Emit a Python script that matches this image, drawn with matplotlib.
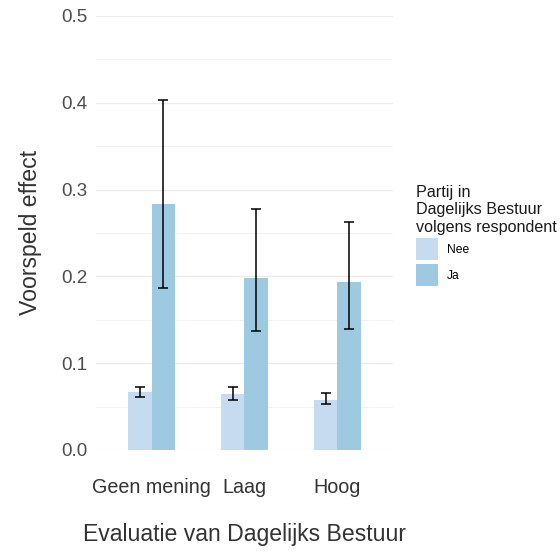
import numpy as np
import matplotlib.pyplot as plt
from matplotlib.patches import Patch

plt.rcParams['font.family'] = ['Liberation Sans', 'DejaVu Sans']

categories = ['Geen mening', 'Laag', 'Hoog']
groups = ['Nee', 'Ja']
nee_vals = [0.067, 0.065, 0.058]
nee_lo = [0.061, 0.058, 0.053]
nee_hi = [0.073, 0.072, 0.066]
ja_vals = [0.283, 0.198, 0.193]
ja_lo = [0.187, 0.137, 0.139]
ja_hi = [0.403, 0.278, 0.263]
colors = ['#c6dbef', '#9ecae1']

fig = plt.figure(figsize=(5.6, 5.53), dpi=100)
ax = fig.add_axes([0.1714, 0.1863, 0.5304, 0.7848])

x = np.arange(1, len(categories) + 1)
w = 0.25
text_col = '#333333'

for i, (vals, lo, hi) in enumerate([(nee_vals, nee_lo, nee_hi), (ja_vals, ja_lo, ja_hi)]):
    xs = x + (i - 0.5) * w
    vals = np.array(vals)
    ax.bar(xs, vals, width=w, color=colors[i], zorder=2)
    yerr = [vals - np.array(lo), np.array(hi) - vals]
    ax.errorbar(xs, vals, yerr=yerr, fmt='none', ecolor='black', elinewidth=1.1,
                capsize=3.4, capthick=1.1, zorder=3)

ax.set_xlim(0.4, 3.6)
ax.set_ylim(0, 0.5)
ax.set_yticks(np.arange(0, 0.51, 0.1))
ax.set_yticks(np.arange(0.05, 0.5, 0.1), minor=True)
ax.set_yticklabels(['%.1f' % v for v in np.arange(0, 0.51, 0.1)])
ax.set_xticks(x)
ax.set_xticklabels(categories)
ax.grid(axis='y', which='major', color='#ebebeb', linewidth=1.0, zorder=0)
ax.grid(axis='y', which='minor', color='#f2f2f2', linewidth=0.7, zorder=0)
ax.set_axisbelow(True)
for s in ax.spines.values():
    s.set_visible(False)
ax.tick_params(axis='both', which='both', length=0)
ax.tick_params(axis='y', labelsize=13.5, labelcolor='#4d4d4d', pad=6)
ax.tick_params(axis='x', labelsize=14.2, labelcolor='#333333', pad=20)

ax.set_xlabel('Evaluatie van Dagelijks Bestuur', fontsize=16.6, color=text_col, labelpad=19)
ax.set_ylabel('Voorspeld effect', fontsize=16.6, color=text_col, labelpad=14)

handles = [Patch(facecolor=c, edgecolor='none') for c in colors]
leg = fig.legend(handles, groups, loc='upper left', bbox_to_anchor=(0.743, 0.666),
                 frameon=False, fontsize=8.7,
                 title='Partij in\nDagelijks Bestuur\nvolgens respondent',
                 title_fontsize=11.6, handlelength=1.82, handleheight=2.43,
                 handletextpad=0.75, labelspacing=0.32, alignment='left',
                 borderpad=0, borderaxespad=0)
leg.get_title().set_color('#1a1a1a')

fig.savefig('out.png', dpi=100)
